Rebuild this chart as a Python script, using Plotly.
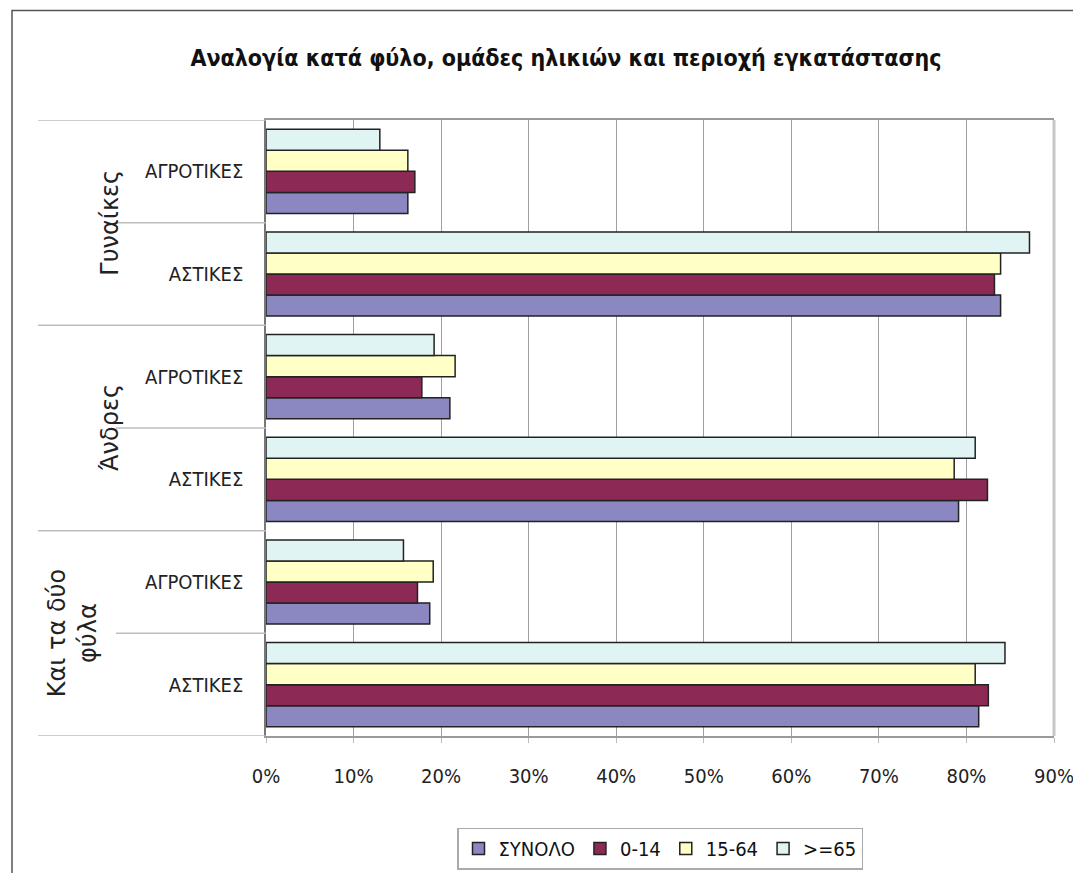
import plotly.graph_objects as go

# ---- data (top-to-bottom order as shown in the chart) ----
groups = ["Γυναίκες", "Γυναίκες", "Άνδρες", "Άνδρες", "Και τα δύο<br>φύλα", "Και τα δύο<br>φύλα"]
areas = ["ΑΓΡΟΤΙΚΕΣ", "ΑΣΤΙΚΕΣ", "ΑΓΡΟΤΙΚΕΣ", "ΑΣΤΙΚΕΣ", "ΑΓΡΟΤΙΚΕΣ", "ΑΣΤΙΚΕΣ"]
series_names = ["ΣΥΝΟΛΟ", "0-14", "15-64", ">=65"]
synolo = [16.2, 83.9, 21.0, 79.1, 18.7, 81.4]
age_0_14 = [17.0, 83.2, 17.8, 82.4, 17.3, 82.5]
age_15_64 = [16.2, 83.9, 21.6, 78.6, 19.1, 81.0]
age_65 = [13.0, 87.2, 19.2, 81.0, 15.7, 84.4]
x_ticks = [0, 10, 20, 30, 40, 50, 60, 70, 80, 90]
x_ticktext = [f"{v}%" for v in x_ticks]

colors = ["#8B87C0", "#8C2A55", "#FFFFC6", "#E0F4F4"]
values = [synolo, age_0_14, age_15_64, age_65]

n = len(areas)
ypos = [n - 1 - i for i in range(n)]  # top row first

W, H = 1081, 873
L, R, T, B = 258, 1046, 112, 731  # plot area in pixels

NARROW = "DejaVu Sans Condensed, Liberation Sans, sans-serif"


def px2x(px):
    return (px - L) / (R - L)


def py2y(py):
    return (B - py) / (B - T)


fig = go.Figure()
for name, vals, col in zip(series_names, values, colors):
    fig.add_trace(go.Bar(
        y=ypos, x=vals, name=name, orientation="h",
        marker=dict(color=col, line=dict(color="#222222", width=1.5)),
    ))

shapes = []
group_bounds = [ypos[0] + 0.5] + [ypos[i] + 0.5 for i in range(1, n) if groups[i] != groups[i - 1]] + [ypos[-1] - 0.5]
for yb in group_bounds:
    shapes.append(dict(type="line", xref="paper", yref="y", x0=px2x(30), x1=0, y0=yb, y1=yb,
                       line=dict(color="#BDBDBD", width=1.5)))
for i in range(1, n):
    if groups[i] == groups[i - 1]:
        yb = ypos[i] + 0.5
        shapes.append(dict(type="line", xref="paper", yref="y", x0=px2x(108), x1=0, y0=yb, y1=yb,
                           line=dict(color="#BDBDBD", width=1.5)))
shapes.append(dict(type="line", xref="paper", yref="paper", x0=1, x1=1, y0=0, y1=1,
                   line=dict(color="#C8C8C8", width=3)))
shapes.append(dict(type="rect", xref="paper", yref="paper", x0=px2x(4), x1=px2x(1079),
                   y0=py2y(872), y1=py2y(2), line=dict(color="#555555", width=1.5), layer="below"))

annotations = []
seen = []
for g in groups:
    if g in seen:
        continue
    seen.append(g)
    idx = [i for i in range(n) if groups[i] == g]
    yc = sum(ypos[i] for i in idx) / len(idx)
    xc = 64 if "<br>" in g else 102
    annotations.append(dict(text=g, xref="paper", yref="y", x=px2x(xc), y=yc,
                            textangle=-90, showarrow=False, xanchor="center", yanchor="middle",
                            font=dict(family="DejaVu Sans, Liberation Sans, sans-serif", size=24, color="#222222")))

fig.update_layout(
    width=W, height=H,
    margin=dict(l=L, r=W - R, t=T, b=H - B),
    paper_bgcolor="white", plot_bgcolor="white",
    barmode="group", bargap=0.18, bargroupgap=0,
    title=dict(text="<b>Αναλογία κατά φύλο, ομάδες ηλικιών και περιοχή εγκατάστασης</b>",
               xref="container", yref="container", x=558 / W, y=1 - 50 / H,
               xanchor="center", yanchor="middle",
               font=dict(family=NARROW, size=23, color="#111111")),
    xaxis=dict(range=[0, 90], tickvals=x_ticks, ticktext=x_ticktext,
               showgrid=True, gridcolor="#A0A0A0", gridwidth=1,
               showline=True, linecolor="#9A9A9A", linewidth=1.5, mirror=True,
               ticks="outside", ticklen=5, tickcolor="#BBBBBB",
               ticklabelstandoff=16, zeroline=False,
               tickfont=dict(family=NARROW, size=20, color="#222222")),
    yaxis=dict(range=[-0.5, n - 0.5], tickvals=ypos, ticktext=areas,
               showgrid=False, zeroline=False,
               showline=True, linecolor="#777777", linewidth=1.5,
               ticks="", ticklabelstandoff=17,
               tickfont=dict(family=NARROW, size=20, color="#222222")),
    legend=dict(orientation="h", x=0.5, xanchor="center", y=-(823 - B) / (B - T), yanchor="top",
                bordercolor="#AAAAAA", borderwidth=1.5, traceorder="normal",
                font=dict(family=NARROW, size=20, color="#111111")),
    shapes=shapes,
    annotations=annotations,
    showlegend=True,
)

fig.write_html("out.html")
